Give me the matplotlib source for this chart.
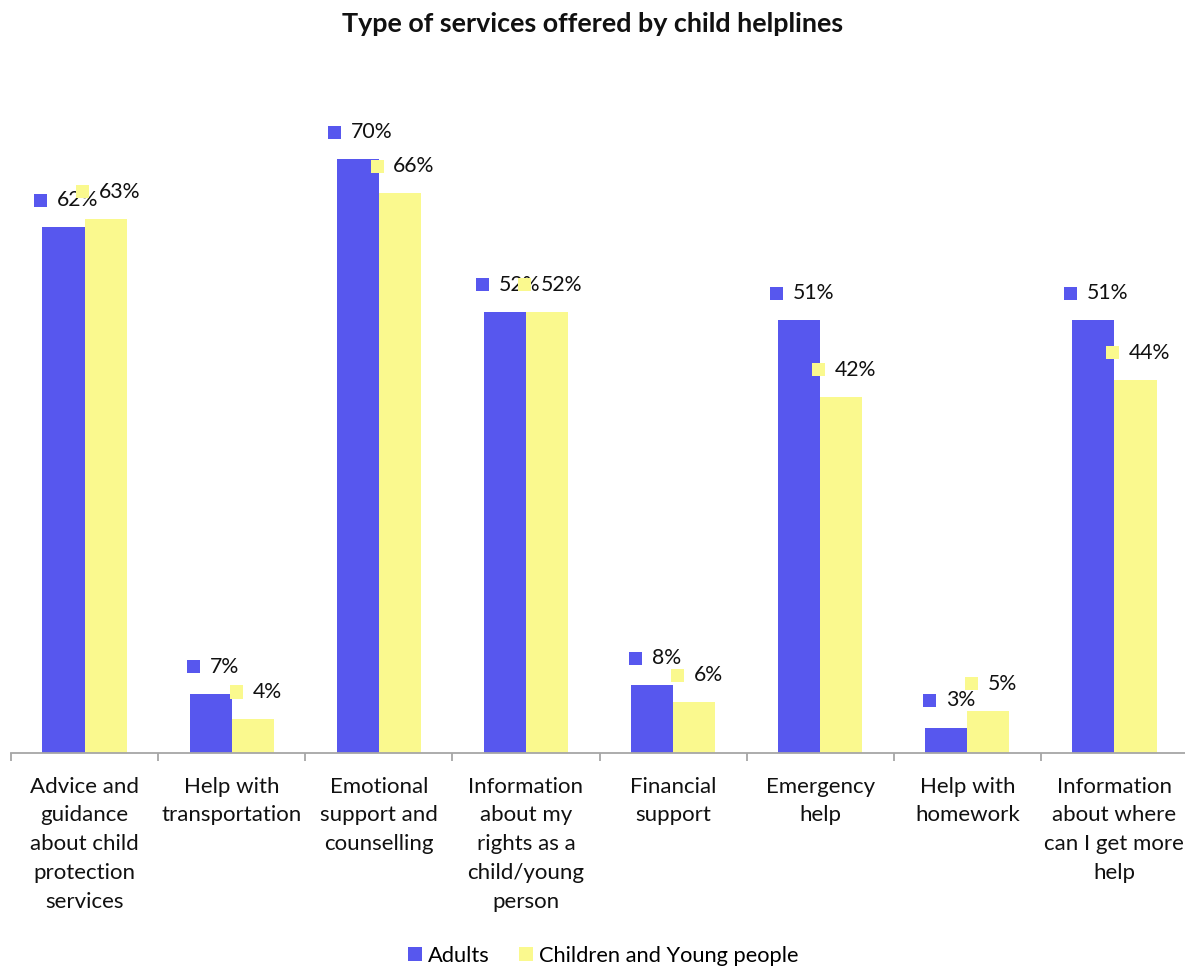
import matplotlib
matplotlib.use("Agg")
import matplotlib.pyplot as plt
import numpy as np
from matplotlib.patches import Rectangle
from matplotlib.offsetbox import AnnotationBbox, DrawingArea, HPacker, TextArea

plt.rcParams['font.family'] = ['Lato', 'DejaVu Sans']

categories = [
    "Advice and\nguidance\nabout child\nprotection\nservices",
    "Help with\ntransportation",
    "Emotional\nsupport and\ncounselling",
    "Information\nabout my\nrights as a\nchild/young\nperson",
    "Financial\nsupport",
    "Emergency\nhelp",
    "Help with\nhomework",
    "Information\nabout where\ncan I get more\nhelp",
]
adults = [62, 7, 70, 52, 8, 51, 3, 51]
children = [63, 4, 66, 52, 6, 42, 5, 44]
series_names = ["Adults", "Children and Young people"]
colors = ["#5757EE", "#FAF98E"]

W, H = 1185, 968
fig = plt.figure(figsize=(W / 100, H / 100), dpi=100)
ax = fig.add_axes([11 / W, 215 / H, 1177 / W, 678.5 / H])

x = np.arange(len(categories))
bw = 0.286
for i, (vals, col) in enumerate(zip([adults, children], colors)):
    xs = x + (i - 0.5) * bw
    ax.bar(xs, vals, width=bw, color=col, label=series_names[i], zorder=2)

ax.set_xlim(-0.5, len(categories) - 0.5)
ax.set_ylim(0, 80)

# value labels with a legend key in front of the number
label_fs = 15.3
for i, (vals, col) in enumerate(zip([adults, children], colors)):
    xs = x + (i - 0.5) * bw
    for xi, v in zip(xs, vals):
        da = DrawingArea(9.4, 9.4, 0, 0)
        da.add_artist(Rectangle((0, 0), 9.4, 9.4, facecolor=col, edgecolor="none"))
        ta = TextArea(f"{v}%", textprops=dict(fontsize=label_fs, color="#111111"))
        box = HPacker(children=[da, ta], align="center", pad=0, sep=7)
        ab = AnnotationBbox(box, (xi, v), xybox=(2, 19.5), xycoords="data",
                            boxcoords="offset points", frameon=False,
                            box_alignment=(0.5, 0.5), pad=0, zorder=5)
        ax.add_artist(ab)

for s in ["top", "right", "left"]:
    ax.spines[s].set_visible(False)
ax.spines["bottom"].set_color("#A6A6A6")
ax.spines["bottom"].set_linewidth(1.3)
ax.set_yticks([])

cat_fs = 16
ax.set_xticks(x)
ax.set_xticklabels(categories, fontsize=cat_fs, color="#111111")
for t in ax.get_xticklabels():
    t.set_linespacing(1.55)
ax.tick_params(axis="x", which="major", length=0, pad=17)
ax.set_xticks(np.arange(len(categories) + 1) - 0.5, minor=True)
ax.tick_params(axis="x", which="minor", length=6, width=1.3, color="#A6A6A6")

fig.text(0.5, 1 - 24 / H, "Type of services offered by child helplines",
         ha="center", va="center", fontsize=19.4, fontweight="bold", color="#111111")

handles = [Rectangle((0, 0), 1, 1, facecolor=c, edgecolor="none") for c in colors]
fig.legend(handles, series_names, loc="center", bbox_to_anchor=(0.5 + 11 / W, 12 / H),
           ncol=2, frameon=False, fontsize=15.75, handlelength=0.6, handleheight=0.6,
           handletextpad=0.3, columnspacing=1.35)

fig.savefig("out.png", dpi=100)
